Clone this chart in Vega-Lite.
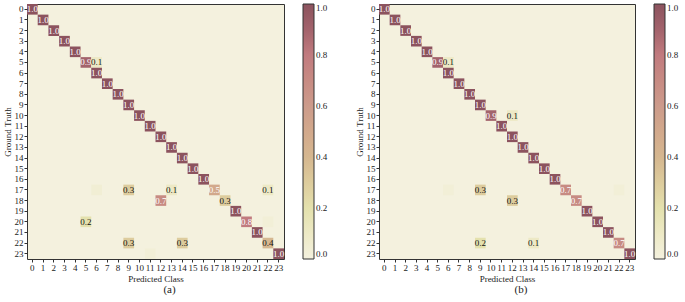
{
  "$schema": "https://vega.github.io/schema/vega-lite/v6.json",
  "background": "white",
  "padding": {"left": 2, "top": 3, "right": 0, "bottom": 0},
  "spacing": 25,
  "config": {
    "font": "Liberation Serif",
    "view": {"stroke": "#333", "strokeWidth": 1, "fill": "#f4f1de"},
    "axis": {"labelFont": "Liberation Serif", "titleFont": "Liberation Serif", "labelFontSize": 9, "titleFontSize": 9, "titleFontWeight": "normal", "labelColor": "#222", "titleColor": "#222", "tickColor": "#333", "tickSize": 3, "domain": false, "grid": false, "labelPadding": 1, "titlePadding": 2},
    "legend": {"labelFont": "Liberation Serif", "labelFontSize": 9, "labelColor": "#222", "labelBaseline": "middle", "padding": 0, "offset": 19, "gradientLength": 255, "gradientThickness": 11, "gradientStrokeColor": "#333", "gradientStrokeWidth": 1, "labelOffset": 4},
    "title": {"font": "Liberation Serif", "fontSize": 11, "fontWeight": "normal", "color": "#222"}
  },
  "datasets": {
    "a": [
      {"t": 0, "c": 0, "v": 1.0}, {"t": 1, "c": 1, "v": 1.0}, {"t": 2, "c": 2, "v": 1.0}, {"t": 3, "c": 3, "v": 1.0},
      {"t": 4, "c": 4, "v": 1.0}, {"t": 5, "c": 5, "v": 0.9}, {"t": 5, "c": 6, "v": 0.1}, {"t": 6, "c": 6, "v": 1.0},
      {"t": 7, "c": 7, "v": 1.0}, {"t": 8, "c": 8, "v": 1.0}, {"t": 9, "c": 9, "v": 1.0}, {"t": 10, "c": 10, "v": 1.0},
      {"t": 11, "c": 11, "v": 1.0}, {"t": 12, "c": 12, "v": 1.0}, {"t": 13, "c": 13, "v": 1.0}, {"t": 14, "c": 14, "v": 1.0},
      {"t": 15, "c": 15, "v": 1.0}, {"t": 16, "c": 16, "v": 1.0},
      {"t": 17, "c": 6, "v": 0.04}, {"t": 17, "c": 9, "v": 0.3}, {"t": 17, "c": 13, "v": 0.1}, {"t": 17, "c": 17, "v": 0.5}, {"t": 17, "c": 22, "v": 0.1},
      {"t": 18, "c": 12, "v": 0.7}, {"t": 18, "c": 18, "v": 0.3},
      {"t": 19, "c": 19, "v": 1.0},
      {"t": 20, "c": 5, "v": 0.2}, {"t": 20, "c": 20, "v": 0.8}, {"t": 20, "c": 22, "v": 0.03},
      {"t": 21, "c": 21, "v": 1.0},
      {"t": 22, "c": 9, "v": 0.3}, {"t": 22, "c": 14, "v": 0.3}, {"t": 22, "c": 22, "v": 0.4},
      {"t": 23, "c": 11, "v": 0.03}, {"t": 23, "c": 23, "v": 1.0}
    ],
    "b": [
      {"t": 0, "c": 0, "v": 1.0}, {"t": 1, "c": 1, "v": 1.0}, {"t": 2, "c": 2, "v": 1.0}, {"t": 3, "c": 3, "v": 1.0},
      {"t": 4, "c": 4, "v": 1.0}, {"t": 5, "c": 5, "v": 0.9}, {"t": 5, "c": 6, "v": 0.1}, {"t": 6, "c": 6, "v": 1.0},
      {"t": 7, "c": 7, "v": 1.0}, {"t": 8, "c": 8, "v": 1.0}, {"t": 9, "c": 9, "v": 1.0},
      {"t": 10, "c": 10, "v": 0.9}, {"t": 10, "c": 12, "v": 0.1},
      {"t": 11, "c": 11, "v": 1.0}, {"t": 12, "c": 12, "v": 1.0}, {"t": 13, "c": 13, "v": 1.0}, {"t": 14, "c": 14, "v": 1.0},
      {"t": 15, "c": 15, "v": 1.0}, {"t": 16, "c": 16, "v": 1.0},
      {"t": 17, "c": 6, "v": 0.03}, {"t": 17, "c": 9, "v": 0.3}, {"t": 17, "c": 17, "v": 0.7}, {"t": 17, "c": 22, "v": 0.03},
      {"t": 18, "c": 12, "v": 0.3}, {"t": 18, "c": 18, "v": 0.7},
      {"t": 19, "c": 19, "v": 1.0}, {"t": 20, "c": 20, "v": 1.0}, {"t": 21, "c": 21, "v": 1.0},
      {"t": 22, "c": 9, "v": 0.2}, {"t": 22, "c": 14, "v": 0.1}, {"t": 22, "c": 22, "v": 0.7},
      {"t": 23, "c": 23, "v": 1.0}
    ]
  },
  "hconcat": [
    {
      "width": 257, "height": 255,
      "title": {"text": "(a)", "orient": "bottom", "anchor": "middle", "offset": 1, "dx": 14},
      "data": {"name": "a"},
      "encoding": {
        "x": {"field": "c", "type": "ordinal", "scale": {"domain": [0,1,2,3,4,5,6,7,8,9,10,11,12,13,14,15,16,17,18,19,20,21,22,23], "paddingInner": 0, "paddingOuter": 0}, "axis": {"title": "Predicted Class", "labelAngle": 0}},
        "y": {"field": "t", "type": "ordinal", "scale": {"domain": [0,1,2,3,4,5,6,7,8,9,10,11,12,13,14,15,16,17,18,19,20,21,22,23], "paddingInner": 0, "paddingOuter": 0}, "axis": {"title": "Ground Truth"}}
      },
      "layer": [
        {"mark": {"type": "rect"}, "encoding": {"color": {"field": "v", "type": "quantitative", "scale": {"domain": [0, 0.2, 0.4, 0.6, 0.8, 0.9, 1.0], "range": ["#f4f1de", "#e4e1ad", "#d5b790", "#cc9b8b", "#c17b7f", "#a3636c", "#8c535e"]}, "legend": {"title": null, "values": [0, 0.2, 0.4, 0.6, 0.8, 1.0], "format": ".1f", "direction": "vertical"}}}},
        {"transform": [{"filter": "datum.v >= 0.05"}], "mark": {"type": "text", "fontSize": 9, "font": "Liberation Serif"}, "encoding": {"text": {"field": "v", "type": "quantitative", "format": ".1f"}, "color": {"condition": {"test": "datum.v >= 0.5", "value": "white"}, "value": "#111"}}}
      ]
    },
    {
      "width": 256, "height": 255,
      "title": {"text": "(b)", "orient": "bottom", "anchor": "middle", "offset": 1, "dx": 14},
      "data": {"name": "b"},
      "encoding": {
        "x": {"field": "c", "type": "ordinal", "scale": {"domain": [0,1,2,3,4,5,6,7,8,9,10,11,12,13,14,15,16,17,18,19,20,21,22,23], "paddingInner": 0, "paddingOuter": 0}, "axis": {"title": "Predicted Class", "labelAngle": 0}},
        "y": {"field": "t", "type": "ordinal", "scale": {"domain": [0,1,2,3,4,5,6,7,8,9,10,11,12,13,14,15,16,17,18,19,20,21,22,23], "paddingInner": 0, "paddingOuter": 0}, "axis": {"title": "Ground Truth"}}
      },
      "layer": [
        {"mark": {"type": "rect"}, "encoding": {"color": {"field": "v", "type": "quantitative", "scale": {"domain": [0, 0.2, 0.4, 0.6, 0.8, 0.9, 1.0], "range": ["#f4f1de", "#e4e1ad", "#d5b790", "#cc9b8b", "#c17b7f", "#a3636c", "#8c535e"]}, "legend": {"title": null, "values": [0, 0.2, 0.4, 0.6, 0.8, 1.0], "format": ".1f", "direction": "vertical"}}}},
        {"transform": [{"filter": "datum.v >= 0.05"}], "mark": {"type": "text", "fontSize": 9, "font": "Liberation Serif"}, "encoding": {"text": {"field": "v", "type": "quantitative", "format": ".1f"}, "color": {"condition": {"test": "datum.v >= 0.5", "value": "white"}, "value": "#111"}}}
      ]
    }
  ],
  "resolve": {"scale": {"color": "independent"}, "legend": {"color": "independent"}}
}
